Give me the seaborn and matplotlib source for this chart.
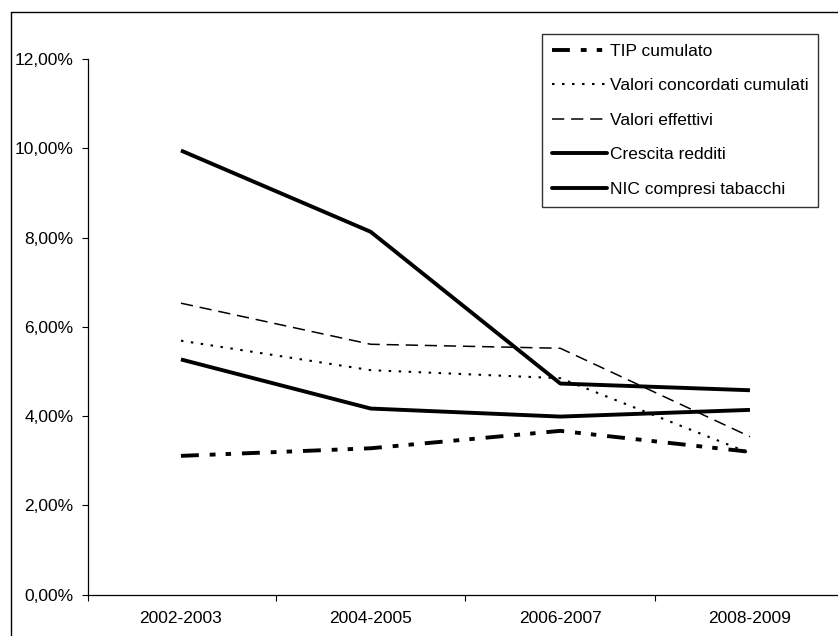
import matplotlib
matplotlib.use("Agg")
import matplotlib.pyplot as plt
from matplotlib.lines import Line2D
import seaborn as sns
import pandas as pd

periods = ["2002-2003", "2004-2005", "2006-2007", "2008-2009"]
tip_cumulato = [3.11, 3.28, 3.67, 3.20]
valori_concordati = [5.69, 5.03, 4.85, 3.17]
valori_effettivi = [6.53, 5.61, 5.52, 3.54]
crescita_redditi = [9.95, 8.13, 4.73, 4.58]
nic_tabacchi = [5.27, 4.17, 3.99, 4.14]
series_names = ["TIP cumulato", "Valori concordati cumulati", "Valori effettivi",
                "Crescita redditi", "NIC compresi tabacchi"]
yticks = [0, 2, 4, 6, 8, 10, 12]
ytick_labels = ["0,00%", "2,00%", "4,00%", "6,00%", "8,00%", "10,00%", "12,00%"]

sns.set_theme(style="white")
plt.rcParams["font.family"] = ["Liberation Sans", "DejaVu Sans"]

W, H = 838, 636
fig = plt.figure(figsize=(W / 100, H / 100), dpi=100)
ax = fig.add_axes([88 / W, (H - 594.7) / H, (838 - 88) / W, (594.7 - 59) / H])

styles = {
    "TIP cumulato": dict(lw=2.8, ls=(0, (4.6, 2.8, 1.5, 2.6, 1.4, 2.8))),
    "Valori concordati cumulati": dict(lw=1.5, ls=(0, (1.2, 3.6))),
    "Valori effettivi": dict(lw=1.1, ls=(0, (8, 4.5))),
    "Crescita redditi": dict(lw=2.8, ls="-"),
    "NIC compresi tabacchi": dict(lw=2.8, ls="-"),
}
values = [tip_cumulato, valori_concordati, valori_effettivi, crescita_redditi, nic_tabacchi]

handles = []
for name, vals in zip(series_names, values):
    df = pd.DataFrame({"pos": range(len(periods)), "val": vals})
    st = styles[name]
    sns.lineplot(data=df, x="pos", y="val", ax=ax, color="black",
                 linewidth=st["lw"], linestyle=st["ls"], legend=False)
    ln = ax.get_lines()[-1]
    ln.set_solid_capstyle("butt")
    ln.set_dash_capstyle("butt")
    handles.append(Line2D([], [], color="black", lw=st["lw"], ls=st["ls"]))

ax.set_xlim(-0.49, 3.464)
ax.set_ylim(0, 12)
ax.set_xticks(range(len(periods)))
ax.set_xticklabels(periods)
ax.set_xticks([-0.49, 0.5, 1.5, 2.5], minor=True)
ax.set_yticks(yticks)
ax.set_yticklabels(ytick_labels)
ax.set_xlabel("")
ax.set_ylabel("")

ax.tick_params(axis="x", which="major", length=0, pad=12, labelsize=12.5, colors="black")
ax.tick_params(axis="x", which="minor", length=4, width=0.8, color="black", direction="out", bottom=True)
ax.tick_params(axis="y", which="major", length=4.5, width=0.8, color="black", direction="out",
               left=True, pad=6, labelsize=12.5, labelcolor="black")

for s in ["top", "right"]:
    ax.spines[s].set_visible(False)
for s in ["left", "bottom"]:
    ax.spines[s].set_color("black")
    ax.spines[s].set_linewidth(0.9)
ax.grid(False)

leg = ax.legend(handles, series_names, loc="upper left",
                bbox_to_anchor=(542 / W, 1 - 34 / H), bbox_transform=fig.transFigure,
                borderaxespad=0, frameon=True, fancybox=False, fontsize=12.5,
                handlelength=3.2, handletextpad=0.15, labelspacing=1.12, borderpad=0.55)
leg.get_frame().set_edgecolor("black")
leg.get_frame().set_linewidth(1.0)
for t in leg.get_texts():
    t.set_color("black")

# chart-area border (left and top visible)
fig.add_artist(Line2D([11 / W, 11 / W], [0, 1 - 12 / H], transform=fig.transFigure, color="black", lw=1))
fig.add_artist(Line2D([11 / W, 1], [1 - 12 / H, 1 - 12 / H], transform=fig.transFigure, color="black", lw=1))

fig.savefig("out.png", dpi=100, facecolor="white")
